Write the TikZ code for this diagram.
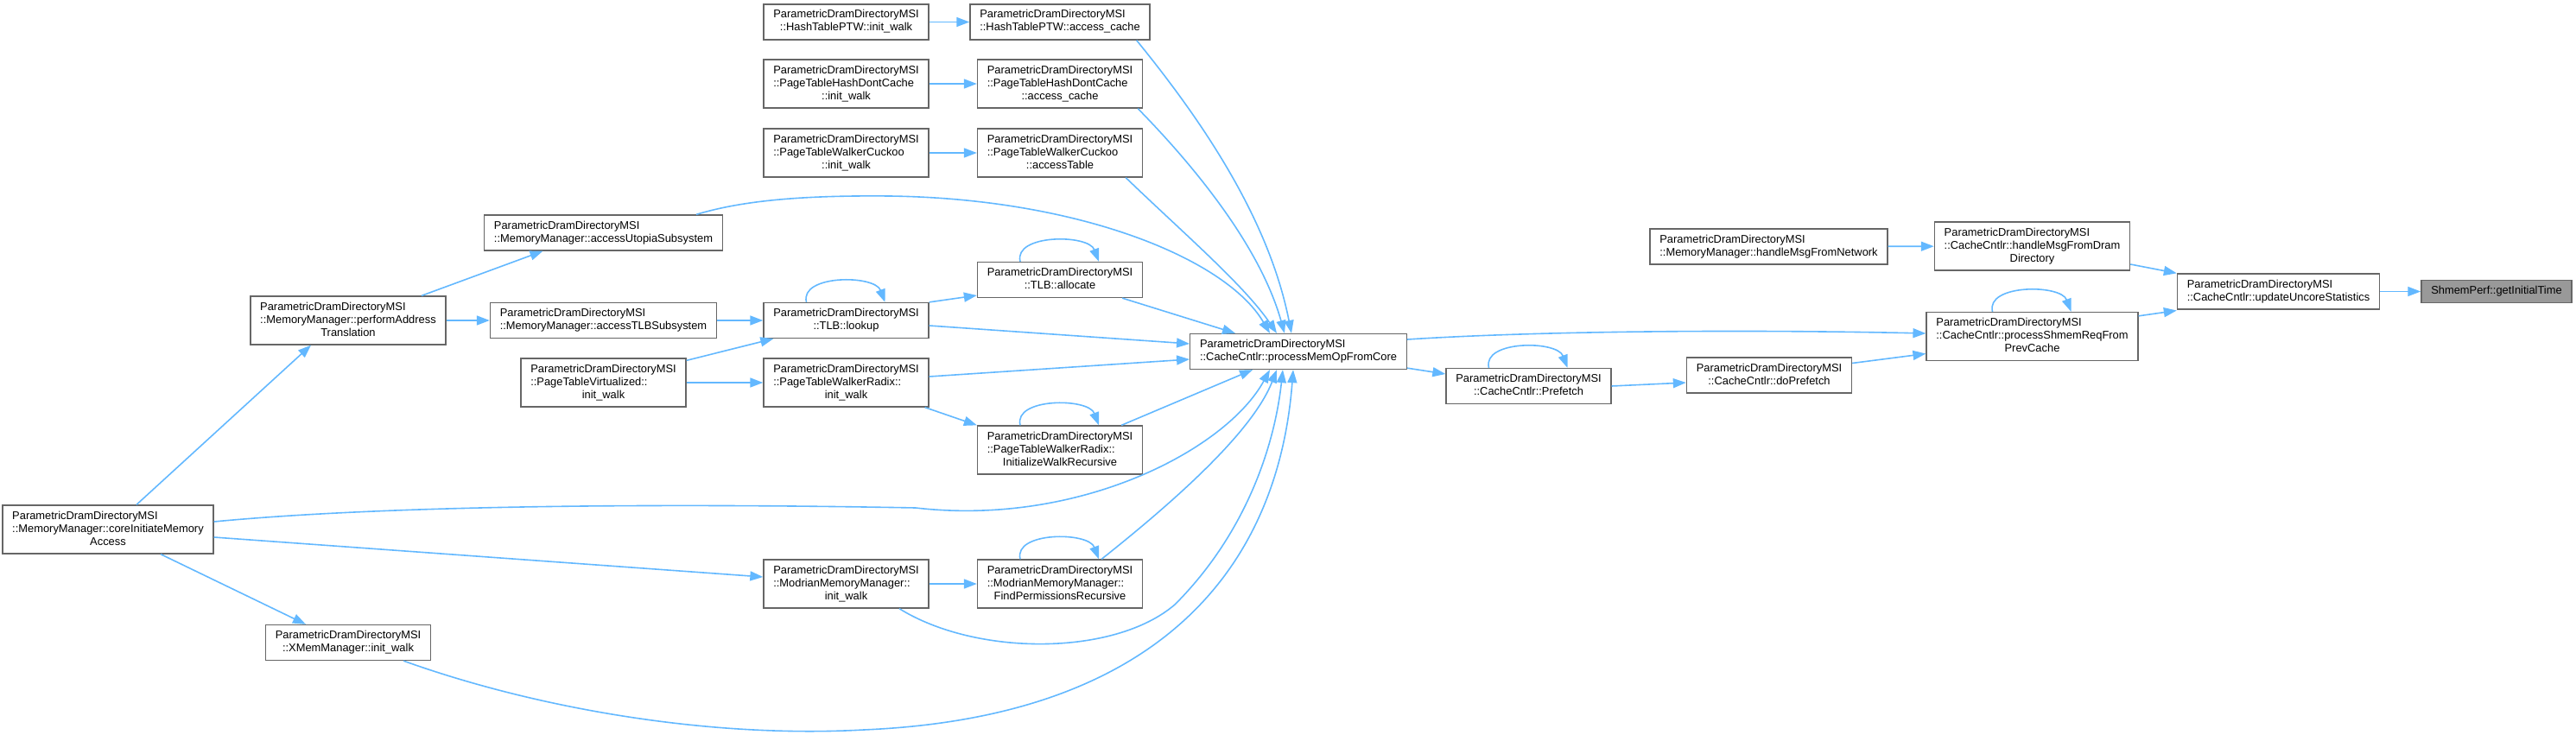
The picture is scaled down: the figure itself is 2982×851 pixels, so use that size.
\documentclass[tikz,border=0pt]{standalone}
\usepackage{fontspec}
\setmainfont{Liberation Sans}
\usetikzlibrary{arrows.meta, calc}
\definecolor{edgeblue}{HTML}{63B8FF}
\definecolor{boxgray}{HTML}{666666}
\definecolor{hilite}{HTML}{999999}
\newcommand{\fnlabel}[2]{\begin{tabular}{@{}l@{}}#1\\\multicolumn{1}{@{}c@{}}{#2}\end{tabular}}
\newcommand{\selfcall}[1]{\draw [calledge] ($(#1.north)+(-46,0)$) .. controls +(-8,-32) and +(-12,-32) .. ($(#1.north)+(45,0)$);}

\begin{document}
\begin{tikzpicture}[x=1pt, y=-1pt,
    fnbox/.style={rectangle, draw=boxgray, line width=1.3pt, fill=white, inner xsep=11.3pt, inner ysep=5.5pt, font=\fontsize{12.9}{15}\selectfont},
    calledge/.style={-{Triangle[length=15pt,width=11pt]}, draw=edgeblue, line width=1.6pt}]
    \useasboundingbox (0,0) rectangle (2982,851);

    \node [fnbox] (htInit) at (979.5,25.5) {\fnlabel{ParametricDramDirectoryMSI}{::HashTablePTW::init\_walk}};
    \node [fnbox] (htAccess) at (1227,25.5) {\fnlabel{ParametricDramDirectoryMSI}{::HashTablePTW::access\_cache}};
    \node [fnbox] (hdcInit) at (979.5,97) {\fnlabel{ParametricDramDirectoryMSI\\::PageTableHashDontCache}{::init\_walk}};
    \node [fnbox] (hdcAccess) at (1227,97) {\fnlabel{ParametricDramDirectoryMSI\\::PageTableHashDontCache}{::access\_cache}};
    \node [fnbox] (ckInit) at (979.5,177) {\fnlabel{ParametricDramDirectoryMSI\\::PageTableWalkerCuckoo}{::init\_walk}};
    \node [fnbox] (ckAccess) at (1227,177) {\fnlabel{ParametricDramDirectoryMSI\\::PageTableWalkerCuckoo}{::accessTable}};
    \node [fnbox] (utopia) at (698.5,269.5) {\fnlabel{ParametricDramDirectoryMSI}{::MemoryManager::accessUtopiaSubsystem}};
    \node [fnbox] (tlbAlloc) at (1227,324) {\fnlabel{ParametricDramDirectoryMSI}{::TLB::allocate}};
    \node [fnbox] (perfAddr) at (403,371) {\fnlabel{ParametricDramDirectoryMSI\\::MemoryManager::performAddress}{Translation}};
    \node [fnbox] (tlbSub) at (698.5,371) {\fnlabel{ParametricDramDirectoryMSI}{::MemoryManager::accessTLBSubsystem}};
    \node [fnbox] (tlbLookup) at (979.5,371) {\fnlabel{ParametricDramDirectoryMSI}{::TLB::lookup}};
    \node [fnbox] (ptVirt) at (698.5,443) {\fnlabel{ParametricDramDirectoryMSI\\::PageTableVirtualized::}{init\_walk}};
    \node [fnbox] (radixInit) at (979.5,443) {\fnlabel{ParametricDramDirectoryMSI\\::PageTableWalkerRadix::}{init\_walk}};
    \node [fnbox] (procMem) at (1503,407) {\fnlabel{ParametricDramDirectoryMSI}{::CacheCntlr::processMemOpFromCore}};
    \node [fnbox] (prefetch) at (1769.5,447) {\fnlabel{ParametricDramDirectoryMSI}{::CacheCntlr::Prefetch}};
    \node [fnbox] (initRec) at (1227,521) {\fnlabel{ParametricDramDirectoryMSI\\::PageTableWalkerRadix::}{InitializeWalkRecursive}};
    \node [fnbox] (coreInit) at (125,613) {\fnlabel{ParametricDramDirectoryMSI\\::MemoryManager::coreInitiateMemory}{Access}};
    \node [fnbox] (modInit) at (979.5,676) {\fnlabel{ParametricDramDirectoryMSI\\::ModrianMemoryManager::}{init\_walk}};
    \node [fnbox] (findPerm) at (1227,676) {\fnlabel{ParametricDramDirectoryMSI\\::ModrianMemoryManager::}{FindPermissionsRecursive}};
    \node [fnbox] (xmem) at (403,744) {\fnlabel{ParametricDramDirectoryMSI}{::XMemManager::init\_walk}};
    \node [fnbox] (netMsg) at (2047.5,285.5) {\fnlabel{ParametricDramDirectoryMSI}{::MemoryManager::handleMsgFromNetwork}};
    \node [fnbox] (dramMsg) at (2352.5,285) {\fnlabel{ParametricDramDirectoryMSI\\::CacheCntlr::handleMsgFromDram}{Directory}};
    \node [fnbox] (doPrefetch) at (2048,434.5) {\fnlabel{ParametricDramDirectoryMSI}{::CacheCntlr::doPrefetch}};
    \node [fnbox] (shmemReq) at (2352.5,389.5) {\fnlabel{ParametricDramDirectoryMSI\\::CacheCntlr::processShmemReqFrom}{PrevCache}};
    \node [fnbox] (uncore) at (2637.5,337.5) {\fnlabel{ParametricDramDirectoryMSI}{::CacheCntlr::updateUncoreStatistics}};
    \node [fnbox, fill=hilite] (shmemPerf) at (2890,337.5) {\begin{tabular}{@{}c@{}}ShmemPerf::getInitialTime\end{tabular}};

    \draw [calledge] (htInit) -- (htAccess);
    \draw [calledge] (hdcInit) -- (hdcAccess);
    \draw [calledge] (ckInit) -- (ckAccess);
    \draw [calledge] ($(htAccess.south east)+(-16,0)$) .. controls (1400,150) and (1470,260) .. ($(procMem.north)+(-8,0)$);
    \draw [calledge] ($(hdcAccess.south east)+(-6,0)$) .. controls (1390,200) and (1460,290) .. ($(procMem.north)+(-16,0)$);
    \draw [calledge] ($(ckAccess.south east)+(-20,0)$) .. controls (1370,270) and (1440,330) .. ($(procMem.north)+(-25,0)$);
    \draw [calledge] ($(utopia.north east)+(-31,0)$) .. controls (860,232) and (930,226) .. (1030,227) .. controls (1250,230) and (1420,300) .. ($(procMem.north)+(-33,0)$);
    \draw [calledge] ($(perfAddr.north)+(85,0)$) -- ($(utopia.south)+(-70,0)$);
    \draw [calledge] (perfAddr) -- (tlbSub);
    \draw [calledge] (tlbSub) -- (tlbLookup);
    \selfcall{tlbLookup}
    \draw [calledge] (tlbLookup.north east) -- ($(tlbAlloc.west)+(0,18)$);
    \selfcall{tlbAlloc}
    \draw [calledge] ($(tlbAlloc.south east)+(-24,0)$) -- ($(procMem.north)+(-73,0)$);
    \draw [calledge] ($(tlbLookup.east)+(0,6)$) -- ($(procMem.west)+(0,-9)$);
    \draw [calledge] ($(ptVirt.north east)+(0,3)$) -- ($(tlbLookup.south west)+(12,0)$);
    \draw [calledge] (ptVirt) -- (radixInit);
    \draw [calledge] ($(radixInit.east)+(0,-7)$) -- ($(procMem.west)+(0,9)$);
    \draw [calledge] ($(radixInit.south east)+(-5,0)$) -- (initRec.north west);
    \selfcall{initRec}
    \draw [calledge] ($(initRec.north east)+(-25,0)$) -- ($(procMem.south)+(-53,0)$);
    \draw [calledge] ($(coreInit.north)+(33,0)$) -- ($(perfAddr.south)+(-43,0)$);
    \draw [calledge] ($(coreInit.east)+(0,-9)$) .. controls (500,580) and (900,585) .. (1060,588) .. controls (1250,610) and (1420,520) .. ($(procMem.south)+(-33,0)$);
    \draw [calledge] ($(coreInit.east)+(0,9)$) -- ($(modInit.west)+(0,-8)$);
    \draw [calledge] ($(coreInit.south)+(61,0)$) -- ($(xmem.north)+(-49,0)$);
    \draw [calledge] (modInit) -- (findPerm);
    \selfcall{findPerm}
    \draw [calledge] ($(findPerm.north east)+(-48,0)$) .. controls (1360,580) and (1450,500) .. ($(procMem.south)+(-25,0)$);
    \draw [calledge] ($(modInit.south)+(61.5,0)$) .. controls (1130,760) and (1290,760) .. (1360,700) .. controls (1440,620) and (1475,520) .. ($(procMem.south)+(-18,0)$);
    \draw [calledge] ($(xmem.south east)+(-32,0)$) .. controls (620,820) and (820,855) .. (1000,845) .. controls (1350,830) and (1480,650) .. ($(procMem.south)+(-6,0)$);
    \draw [calledge] ($(procMem.south east)+(0,-2)$) -- ($(prefetch.west)+(0,-14)$);
    \selfcall{prefetch}
    \draw [calledge] (prefetch.east) -- ($(doPrefetch.west)+(0,8.5)$);
    \draw [calledge] ($(procMem.east)+(0,-14)$) .. controls (1800,382) and (2050,382) .. ($(shmemReq.west)+(0,-3.5)$);
    \draw [calledge] ($(doPrefetch.east)+(0,-14)$) -- ($(shmemReq.west)+(0,20)$);
    \selfcall{shmemReq}
    \draw [calledge] ($(shmemReq.north east)+(0,5)$) -- ($(uncore.west)+(0,22)$);
    \draw [calledge] (netMsg) -- (dramMsg);
    \draw [calledge] ($(dramMsg.east)+(0,21)$) -- (uncore.north west);
    \draw [calledge] (uncore) -- (shmemPerf);
\end{tikzpicture}
\end{document}
